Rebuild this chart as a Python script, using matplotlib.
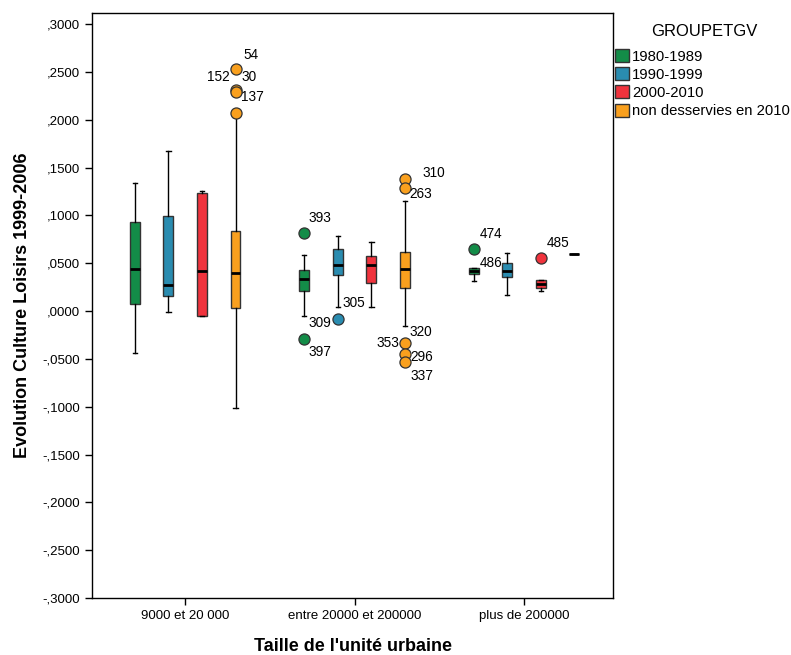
import numpy as np
import matplotlib.pyplot as plt
from matplotlib.patches import Patch

plt.rcParams['font.family'] = ['Liberation Sans', 'DejaVu Sans']

groups = ['9000 et 20 000', 'entre 20000 et 200000', 'plus de 200000']
series = ['1980-1989', '1990-1999', '2000-2010', 'non desservies en 2010']
colors = ['#138c48', '#2a8cb0', '#f0333d', '#f9a01e']

# box stats per group, one row per series: whislo, q1, med, q3, whishi
whislo = [[-0.0437, -0.0008, -0.0050, -0.1010],
          [-0.0050, 0.0044, 0.0044, -0.0155],
          [0.0316, 0.0169, 0.0211, 0.0598]]
q1 = [[0.0075, 0.0159, -0.0050, 0.0033],
      [0.0211, 0.0378, 0.0295, 0.0243],
      [0.0389, 0.0357, 0.0243, 0.0598]]
med = [[0.0441, 0.0274, 0.0420, 0.0399],
       [0.0337, 0.0483, 0.0483, 0.0441],
       [0.0420, 0.0420, 0.0284, 0.0598]]
q3 = [[0.0932, 0.0995, 0.1236, 0.0838],
      [0.0431, 0.0650, 0.0577, 0.0619],
      [0.0452, 0.0504, 0.0326, 0.0598]]
whishi = [[0.1340, 0.1675, 0.1256, 0.2030],
          [0.0588, 0.0786, 0.0723, 0.1150],
          [0.0452, 0.0608, 0.0326, 0.0598]]
fliers = [[[], [], [], [0.2532, 0.2310, 0.2295, 0.2072]],
          [[0.0817, -0.0291], [-0.0081], [], [0.1380, 0.1286, -0.0337, -0.0452, -0.0536]],
          [[0.0650], [], [0.0556], []]]

# outlier labels: group, series, anchor value, text, offset in pixels
labels = [(0, 3, 0.2532, '54', 15, 14), (0, 3, 0.2302, '152', -17, 14),
          (0, 3, 0.2302, '30', 14, 14), (0, 3, 0.2072, '137', 17, 16),
          (1, 0, 0.0817, '393', 16, 15), (1, 0, -0.0291, '397', 16, -13),
          (1, 1, -0.0081, '309', -18, -4), (1, 1, -0.0081, '305', 16, 16),
          (1, 3, 0.1380, '310', 29, 6), (1, 3, 0.1286, '263', 16, -6),
          (1, 3, -0.0337, '320', 16, 11), (1, 3, -0.0337, '353', -17, 0),
          (1, 3, -0.0452, '296', 17, -3), (1, 3, -0.0536, '337', 17, -14),
          (2, 0, 0.0650, '474', 17, 15), (2, 0, 0.0650, '486', 17, -14),
          (2, 2, 0.0556, '485', 17, 15)]

step = 0.198
offsets = (np.arange(len(series)) - 1.5) * step

fig = plt.figure(figsize=(7.91, 6.55), dpi=100)
ax = fig.add_axes([92 / 791, 1 - 598 / 655, (613 - 92) / 791, (598 - 12.7) / 655])

for g in range(len(groups)):
    for s in range(len(series)):
        st = dict(whislo=whislo[g][s], q1=q1[g][s], med=med[g][s], q3=q3[g][s],
                  whishi=whishi[g][s], fliers=fliers[g][s])
        ax.bxp([st], positions=[g + offsets[s]], widths=0.058, capwidths=0.026,
               patch_artist=True, manage_ticks=False,
               boxprops=dict(facecolor=colors[s], edgecolor='#333333', linewidth=1.0),
               medianprops=dict(color='black', linewidth=2.0),
               whiskerprops=dict(color='black', linewidth=1.0),
               capprops=dict(color='black', linewidth=1.0),
               flierprops=dict(marker='o', markersize=8, markerfacecolor=colors[s],
                               markeredgecolor='#333333', markeredgewidth=0.9))

for g, s, v, txt, dx, dy in labels:
    ax.annotate(txt, xy=(g + offsets[s], v), xytext=(dx, dy), textcoords='offset pixels',
                ha='center', va='center', fontsize=9.8)

ax.set_xlim(-0.55, 2.525)
ax.set_ylim(-0.3, 0.312)
yt = np.round(np.arange(-0.3, 0.3001, 0.05), 4) + 0.0
ax.set_yticks(yt)
ax.set_yticklabels([f'{v:.4f}'.replace('0.', ',') for v in yt])
ax.set_xticks(range(len(groups)))
ax.set_xticklabels(groups)
ax.tick_params(direction='out', length=5, width=1, labelsize=9.5, colors='black')
for sp in ax.spines.values():
    sp.set_linewidth(1.0)

ax.set_xlabel("Taille de l'unité urbaine", fontsize=13, fontweight='bold', labelpad=12)
ax.set_ylabel('Evolution Culture Loisirs 1999-2006', fontsize=13, fontweight='bold', labelpad=8)

fig.text(704 / 791, 1 - 32 / 655, 'GROUPETGV', ha='center', va='center', fontsize=12)
handles = [Patch(facecolor=c, edgecolor='#333333', linewidth=1.0) for c in colors]
fig.legend(handles, series, loc='upper left',
           bbox_to_anchor=(615 / 791, 1 - 49 / 655), frameon=False, fontsize=10.7,
           handlelength=0.95, handleheight=0.95, handletextpad=0.2,
           labelspacing=0.25, borderpad=0, borderaxespad=0)

fig.savefig('out.png', dpi=100)
